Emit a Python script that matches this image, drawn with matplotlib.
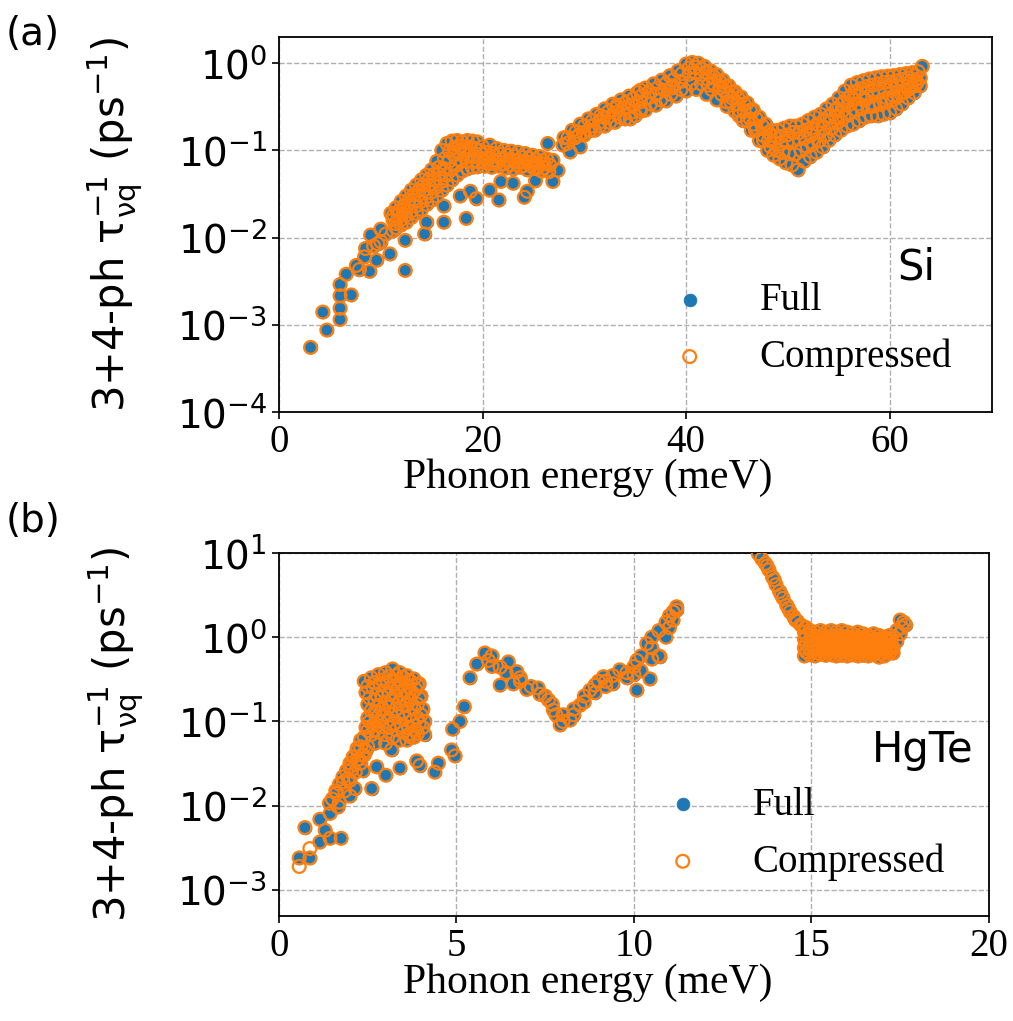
import matplotlib

matplotlib.use("Agg")

import matplotlib.pyplot as plt  # noqa: E402
import numpy as np  # noqa: E402

# ---- Si (panel a) ----
si_sparse_x = [3.1, 4.3, 4.7, 6.0, 6.0, 6.0, 6.0, 7.1, 6.6, 7.9, 8.9, 8.4, 9.6, 9.0,
               10.9, 12.4, 12.4, 14.3, 14.5, 16.2, 16.2, 18.4, 17.8, 18.8, 19.4, 20.7,
               21.6, 21.8, 23.0, 24.1, 24.4, 25.2, 26.9, 27.4, 26.9, 26.4, 27.9, 28.6,
               29.6, 8.5, 9.3, 10.0, 10.5, 11.2, 10.0, 9.7, 7.6, 30.6, 31.9, 33.2, 34.5,
               35.5, 35.5, 63.2, 45.2, 44.0, 46.6, 38.6, 42.2]
si_sparse_y = [5.5e-4, 1.4e-3, 8.7e-4, 1.15e-3, 1.55e-3, 2.15e-3, 2.9e-3, 2.2e-3, 3.8e-3,
               4.3e-3, 4.1e-3, 6.0e-3, 5.5e-3, 1.07e-2, 6.5e-3, 4.2e-3, 9.3e-3, 1.1e-2,
               1.5e-2, 1.5e-2, 2.3e-2, 1.66e-2, 3.0e-2, 3.4e-2, 2.8e-2, 3.5e-2, 2.7e-2,
               4.4e-2, 4.2e-2, 2.9e-2, 3.4e-2, 4.5e-2, 4.4e-2, 5.9e-2, 7.7e-2, 0.12, 0.115,
               0.096, 0.11, 7.5e-3, 8.0e-3, 9.0e-3, 1.1e-2, 1.2e-2, 1.25e-2, 8.5e-3, 4.8e-3,
               0.17, 0.24, 0.33, 0.23, 0.28, 0.49, 0.92, 0.25, 0.36, 0.20, 0.52, 0.56]

# rising band 11-27 meV, several tracks from top to bottom
si_low_a_x = [11.0, 11.5, 12.0, 12.5, 13.0, 13.5, 14.0, 14.5, 15.0, 15.5, 16.0, 16.5, 17.0,
              17.5, 18.0, 18.5, 19.0, 19.5, 20.0, 20.7, 21.4, 22.1, 22.8, 23.5, 24.2, 24.9,
              25.6, 26.3]
si_low_a_y = [0.019, 0.022, 0.026, 0.030, 0.035, 0.040, 0.046, 0.052, 0.060, 0.075, 0.100,
              0.120, 0.128, 0.130, 0.125, 0.130, 0.128, 0.125, 0.110, 0.115, 0.105, 0.100,
              0.098, 0.095, 0.092, 0.088, 0.085, 0.080]
si_low_ab_x = [11.25, 11.75, 12.25, 12.75, 13.25, 13.75, 14.25, 14.75, 15.25, 15.75, 16.25,
               16.75, 17.25, 17.75, 18.25, 18.75, 19.25, 19.75, 20.35, 21.05, 21.75, 22.45,
               23.15, 23.85, 24.55, 25.25, 25.95]
si_low_ab_y = [0.018, 0.020, 0.023, 0.027, 0.031, 0.035, 0.040, 0.046, 0.053, 0.064, 0.080,
               0.098, 0.108, 0.112, 0.108, 0.108, 0.105, 0.100, 0.095, 0.092, 0.090, 0.088,
               0.086, 0.083, 0.081, 0.078, 0.076]
si_low_b_x = [11.2, 11.7, 12.2, 12.7, 13.2, 13.7, 14.2, 14.7, 15.2, 15.7, 16.2, 16.7, 17.2,
              17.7, 18.2, 18.7, 19.2, 19.8, 20.4, 21.1, 21.8, 22.5, 23.2, 23.9, 24.6, 25.3,
              26.0, 26.6]
si_low_b_y = [0.016, 0.018, 0.021, 0.024, 0.027, 0.031, 0.035, 0.040, 0.046, 0.053, 0.062,
              0.075, 0.088, 0.095, 0.092, 0.088, 0.085, 0.082, 0.080, 0.078, 0.080, 0.077,
              0.076, 0.074, 0.073, 0.072, 0.070, 0.068]
si_low_bc_x = [11.45, 11.95, 12.45, 12.95, 13.45, 13.95, 14.45, 14.95, 15.45, 15.95, 16.45,
               16.95, 17.45, 17.95, 18.45, 18.95, 19.5, 20.15, 20.8, 21.45, 22.1, 22.75,
               23.4, 24.05, 24.7, 25.35, 26.0]
si_low_bc_y = [0.0145, 0.016, 0.018, 0.020, 0.023, 0.026, 0.029, 0.033, 0.038, 0.044,
               0.052, 0.060, 0.068, 0.075, 0.076, 0.075, 0.074, 0.073, 0.071, 0.072, 0.070,
               0.069, 0.069, 0.067, 0.067, 0.065, 0.063]
si_low_c_x = [11.5, 12.0, 12.5, 13.0, 13.5, 14.0, 14.5, 15.0, 15.5, 16.0, 16.5, 17.0, 17.5,
              18.0, 18.5, 19.0, 19.5, 20.2, 20.9, 21.6, 22.3, 23.0, 23.7, 24.4, 25.1, 25.8,
              26.5]
si_low_c_y = [0.013, 0.014, 0.015, 0.017, 0.019, 0.021, 0.024, 0.027, 0.030, 0.035, 0.040,
              0.046, 0.052, 0.058, 0.062, 0.064, 0.065, 0.066, 0.064, 0.066, 0.063, 0.062,
              0.064, 0.060, 0.062, 0.058, 0.057]

# optical band 28-63 meV
si_high_d_x = [28.0, 28.8, 29.6, 30.4, 31.2, 32.0, 32.8, 33.6, 34.4, 35.2, 36.0, 36.8, 37.6,
               38.4, 39.2, 40.0, 40.6, 41.2, 41.8, 42.4, 43.0, 43.6, 44.2, 44.8, 45.4, 46.0,
               46.6, 47.2, 47.8, 48.4, 49.0, 49.6, 50.2, 50.8, 51.4, 52.0, 52.6, 53.2, 53.8,
               54.4, 55.0, 55.6, 56.2, 56.8, 57.4, 58.0, 58.6, 59.2, 59.8, 60.4, 61.0, 61.6,
               62.2, 62.8]
si_high_d_y = [0.14, 0.17, 0.20, 0.23, 0.26, 0.30, 0.34, 0.38, 0.42, 0.46, 0.52, 0.58, 0.64,
               0.72, 0.82, 0.98, 1.02, 1.00, 0.92, 0.82, 0.74, 0.64, 0.55, 0.47, 0.41, 0.35,
               0.29, 0.24, 0.20, 0.17, 0.17, 0.18, 0.19, 0.19, 0.20, 0.22, 0.24, 0.26, 0.30,
               0.34, 0.40, 0.48, 0.56, 0.60, 0.63, 0.66, 0.68, 0.70, 0.71, 0.72, 0.74, 0.76,
               0.78, 0.80]
si_high_de_x = [28.4, 29.2, 30.0, 30.8, 31.6, 32.4, 33.2, 34.0, 34.8, 35.6, 36.4, 37.2, 38.0,
                38.8, 39.6, 40.3, 40.9, 41.5, 42.1, 42.7, 43.3, 43.9, 44.5, 45.1, 45.7, 46.3,
                46.9, 47.5, 48.1, 48.7, 49.3, 49.9, 50.5, 51.1, 51.7, 52.3, 52.9, 53.5, 54.1,
                54.7, 55.3, 55.9, 56.5, 57.1, 57.7, 58.3, 58.9, 59.5, 60.1, 60.7, 61.3, 61.9,
                62.5]
si_high_de_y = [0.14, 0.165, 0.19, 0.22, 0.25, 0.28, 0.31, 0.35, 0.39, 0.42, 0.47, 0.52,
                0.58, 0.65, 0.76, 0.88, 0.90, 0.86, 0.78, 0.70, 0.62, 0.54, 0.47, 0.40, 0.34,
                0.29, 0.23, 0.19, 0.16, 0.145, 0.145, 0.15, 0.16, 0.16, 0.17, 0.18, 0.20,
                0.22, 0.25, 0.29, 0.34, 0.40, 0.47, 0.51, 0.54, 0.56, 0.58, 0.60, 0.61, 0.63,
                0.65, 0.68, 0.72]
si_high_e_x = [28.3, 29.1, 29.9, 30.7, 31.5, 32.3, 33.1, 33.9, 34.7, 35.5, 36.3, 37.1, 37.9,
               38.7, 39.5, 40.3, 40.9, 41.5, 42.1, 42.7, 43.3, 43.9, 44.5, 45.1, 45.7, 46.3,
               46.9, 47.5, 48.1, 48.7, 49.3, 49.9, 50.5, 51.1, 51.7, 52.3, 52.9, 53.5, 54.1,
               54.7, 55.3, 55.9, 56.5, 57.1, 57.7, 58.3, 58.9, 59.5, 60.1, 60.7, 61.3, 61.9,
               62.5, 63.0]
si_high_e_y = [0.12, 0.14, 0.16, 0.19, 0.21, 0.24, 0.27, 0.30, 0.33, 0.36, 0.40, 0.44, 0.49,
               0.55, 0.62, 0.75, 0.78, 0.74, 0.66, 0.58, 0.52, 0.46, 0.40, 0.34, 0.28, 0.23,
               0.18, 0.15, 0.13, 0.12, 0.12, 0.125, 0.13, 0.135, 0.14, 0.15, 0.16, 0.18, 0.21,
               0.24, 0.28, 0.33, 0.38, 0.42, 0.45, 0.47, 0.48, 0.50, 0.52, 0.54, 0.56, 0.60,
               0.64, 0.68]
si_high_ef_x = [29.5, 30.5, 31.5, 32.5, 33.5, 34.5, 35.5, 36.5, 37.5, 38.5, 39.5, 40.5, 41.5,
                42.5, 43.5, 44.4, 45.2, 46.0, 46.8, 47.6, 48.3, 48.9, 49.5, 50.1, 50.7, 51.3,
                51.9, 52.5, 53.1, 53.7, 54.3, 54.9, 55.5, 56.1, 56.7, 57.3, 57.9, 58.5, 59.1,
                59.7, 60.3, 60.9, 61.5, 62.1, 62.7]
si_high_ef_y = [0.15, 0.17, 0.19, 0.21, 0.24, 0.27, 0.30, 0.34, 0.38, 0.44, 0.50, 0.58, 0.58,
                0.50, 0.44, 0.36, 0.29, 0.22, 0.17, 0.13, 0.11, 0.10, 0.095, 0.092, 0.090,
                0.10, 0.11, 0.12, 0.13, 0.15, 0.18, 0.21, 0.24, 0.27, 0.29, 0.31, 0.32, 0.33,
                0.34, 0.36, 0.38, 0.42, 0.47, 0.53, 0.60]
si_high_f_x = [30.0, 31.0, 32.0, 33.0, 34.0, 35.0, 36.0, 37.0, 38.0, 39.0, 40.0, 41.0, 42.0,
               43.0, 44.0, 44.8, 45.6, 46.4, 47.2, 48.0, 48.6, 49.2, 49.8, 50.4, 51.0, 51.6,
               52.2, 52.8, 53.4, 54.0, 54.6, 55.2, 55.8, 56.4, 57.0, 57.6, 58.2, 58.8, 59.4,
               60.0, 60.6, 61.2, 61.8, 62.4, 63.0]
si_high_f_y = [0.15, 0.17, 0.19, 0.21, 0.23, 0.25, 0.29, 0.33, 0.37, 0.42, 0.48, 0.50, 0.44,
               0.38, 0.32, 0.28, 0.22, 0.17, 0.13, 0.10, 0.088, 0.080, 0.072, 0.068, 0.060,
               0.075, 0.085, 0.095, 0.11, 0.13, 0.15, 0.17, 0.19, 0.20, 0.22, 0.24, 0.25, 0.25,
               0.26, 0.27, 0.30, 0.34, 0.40, 0.46, 0.55]
si_high_g_x = [54.8, 55.5, 56.2, 56.9, 57.6, 58.3, 59.0, 59.7, 60.4, 61.1, 61.8, 62.5]
si_high_g_y = [0.30, 0.36, 0.42, 0.34, 0.38, 0.32, 0.36, 0.40, 0.42, 0.45, 0.50, 0.56]

# ---- HgTe (panel b) ----
hg_sparse_x = [0.57, 0.87, 0.73, 1.15, 1.15, 1.30, 1.44, 1.75, 1.44, 1.42, 1.67, 1.62, 2.0,
               1.81, 2.14, 2.0, 2.09, 2.37, 2.61, 2.75, 3.01, 3.41, 3.17, 3.69, 3.97, 3.88,
               4.39, 4.49, 4.86, 4.96, 4.89, 5.10, 5.22, 5.38, 5.57, 5.80, 5.90, 6.23, 6.23,
               6.46, 6.60, 6.70, 6.98, 7.35, 7.59, 7.73, 7.92, 8.20, 8.48, 8.76, 9.14, 9.60,
               10.08, 10.08, 10.36]
hg_sparse_y = [2.4e-3, 2.4e-3, 5.5e-3, 3.7e-3, 6.9e-3, 5.1e-3, 4.1e-3, 4.1e-3, 8.1e-3,
               1.07e-2, 9.7e-3, 1.4e-2, 1.3e-2, 1.9e-2, 1.6e-2, 2.9e-2, 3.8e-2, 2.6e-2,
               1.6e-2, 2.9e-2, 2.3e-2, 2.8e-2, 4.6e-2, 6.6e-2, 3.0e-2, 3.4e-2, 2.5e-2,
               3.2e-2, 4.6e-2, 3.9e-2, 8.1e-2, 0.10, 0.15, 0.33, 0.48, 0.65, 0.53, 0.44,
               0.27, 0.51, 0.28, 0.39, 0.24, 0.21, 0.18, 0.136, 0.091, 0.104, 0.156, 0.235,
               0.34, 0.41, 0.235, 0.53, 0.84]

hg_tail_x = [1.5, 1.6, 1.7, 1.8, 1.9, 2.0, 2.1, 2.2, 2.3, 1.7, 1.85, 2.0, 2.15, 2.3, 2.4,
             2.3, 2.2, 2.35, 2.5, 2.7, 3.0, 2.2, 1.95, 2.05, 2.25, 2.45]
hg_tail_y = [0.012, 0.015, 0.018, 0.022, 0.026, 0.032, 0.038, 0.048, 0.060, 0.011, 0.015,
             0.020, 0.025, 0.032, 0.040, 0.050, 0.045, 0.040, 0.050, 0.055, 0.055, 0.035,
             0.021, 0.027, 0.036, 0.045]

hg_blob_x = [2.4, 2.6, 2.8, 3.0, 3.2, 3.4, 3.6, 3.8, 3.95,
             2.5, 2.7, 2.9, 3.1, 3.3, 3.5, 3.7, 3.9,
             2.45, 2.65, 2.85, 3.05, 3.25, 3.45, 3.65, 3.85, 4.0,
             2.55, 2.75, 2.95, 3.15, 3.35, 3.55, 3.75, 3.95,
             2.5, 2.7, 2.9, 3.1, 3.3, 3.5, 3.7, 3.9, 4.05,
             2.6, 2.8, 3.0, 3.2, 3.4, 3.6, 3.8, 4.0,
             2.5, 2.7, 2.9, 3.1, 3.3, 3.5, 3.7, 3.9, 4.1,
             2.55, 2.75, 2.95, 3.15, 3.35, 3.55, 3.75, 3.95,
             2.45, 2.65, 2.85, 3.05, 3.25, 3.45, 3.65, 3.85, 4.05,
             2.5, 2.7, 2.9, 3.1, 3.3, 3.5, 3.7, 3.9,
             2.4, 2.6, 2.8, 3.0, 3.2, 3.4, 3.6, 3.8, 4.1]
hg_blob_y = [0.30, 0.33, 0.36, 0.38, 0.42, 0.38, 0.35, 0.32, 0.28,
             0.26, 0.29, 0.31, 0.34, 0.35, 0.33, 0.30, 0.27,
             0.22, 0.25, 0.27, 0.29, 0.30, 0.28, 0.26, 0.24, 0.20,
             0.19, 0.21, 0.23, 0.25, 0.25, 0.23, 0.22, 0.19,
             0.16, 0.18, 0.20, 0.21, 0.20, 0.19, 0.18, 0.16, 0.14,
             0.135, 0.155, 0.17, 0.175, 0.165, 0.155, 0.145, 0.12,
             0.11, 0.13, 0.14, 0.15, 0.14, 0.13, 0.12, 0.11, 0.10,
             0.10, 0.11, 0.12, 0.12, 0.115, 0.11, 0.10, 0.095,
             0.085, 0.09, 0.10, 0.10, 0.095, 0.09, 0.085, 0.08, 0.085,
             0.078, 0.080, 0.087, 0.085, 0.080, 0.075, 0.072, 0.072,
             0.065, 0.07, 0.075, 0.07, 0.065, 0.06, 0.06, 0.065, 0.07]

hg_mid_x = [6.0, 6.0, 6.4, 6.8, 6.8, 7.1, 7.3, 7.5, 7.7, 7.8, 8.0, 8.0, 8.3, 8.3, 8.6, 8.6,
            8.9, 8.9, 9.0, 9.2, 9.2, 9.4, 9.4, 9.8, 9.8, 10.0, 10.0, 10.2, 10.2, 10.45,
            10.5, 10.5, 10.5, 10.7, 10.7, 10.73, 10.9, 10.9, 11.0, 11.0, 11.1, 11.1, 11.2,
            11.2]
hg_mid_y = [0.60, 0.45, 0.38, 0.33, 0.30, 0.26, 0.25, 0.20, 0.16, 0.12, 0.10, 0.12, 0.12,
            0.14, 0.17, 0.20, 0.22, 0.27, 0.30, 0.26, 0.30, 0.28, 0.35, 0.33, 0.38, 0.36,
            0.45, 0.60, 0.40, 0.32, 0.75, 1.00, 0.55, 0.60, 1.20, 0.59, 1.50, 1.00, 1.30,
            1.80, 2.00, 1.60, 2.30, 2.10]

hg_branch_x = [13.5, 13.6, 13.7, 13.8, 13.9, 14.0, 14.1, 14.2, 14.3, 14.4, 14.5, 14.6, 14.7,
               14.85, 13.75, 13.95, 14.15, 14.35, 14.55, 14.75]
hg_branch_y = [9.8, 8.5, 7.5, 6.3, 5.2, 4.2, 3.5, 2.9, 2.4, 2.0, 1.75, 1.55, 1.4, 1.3, 7.0,
               4.8, 3.2, 2.2, 1.6, 1.35]

hg_flat_x = [14.8, 14.95, 15.1, 15.25, 15.4, 15.55, 15.7, 15.85, 16.0, 16.15, 16.3, 16.45,
             16.6, 16.75, 16.9, 17.05, 17.2,
             14.85, 15.0, 15.15, 15.3, 15.45, 15.6, 15.75, 15.9, 16.05, 16.2, 16.35, 16.5,
             16.65, 16.8, 16.95, 17.1, 17.25,
             14.8, 14.95, 15.1, 15.25, 15.4, 15.55, 15.7, 15.85, 16.0, 16.15, 16.3, 16.45,
             16.6, 16.75, 16.9, 17.05, 17.2,
             14.85, 15.0, 15.15, 15.3, 15.45, 15.6, 15.75, 15.9, 16.05, 16.2, 16.35, 16.5,
             16.65, 16.8, 16.95, 17.1, 17.25,
             14.8, 14.95, 15.1, 15.25, 15.4, 15.55, 15.7, 15.85, 16.0, 16.15, 16.3, 16.45,
             16.6, 16.75, 16.9, 17.05, 17.2,
             14.85, 15.0, 15.15, 15.3, 15.45, 15.6, 15.75, 15.9, 16.05, 16.2, 16.35, 16.5,
             16.65, 16.8, 16.95, 17.1, 17.25,
             14.8, 14.95, 15.1, 15.25, 15.4, 15.55, 15.7, 15.85, 16.0, 16.15, 16.3, 16.45,
             16.6, 16.75, 16.9, 17.05, 17.2,
             17.3, 17.4, 17.5, 17.55, 17.6, 17.5, 17.65, 17.4, 17.3]
hg_flat_y = [1.15, 1.20, 1.15, 1.20, 1.15, 1.20, 1.15, 1.20, 1.15, 1.10, 1.15, 1.10, 1.05,
             1.10, 1.05, 1.00, 1.05,
             1.04, 1.05, 1.02, 1.06, 1.03, 1.04, 1.05, 1.02, 1.00, 1.01, 1.00, 0.98, 0.99,
             0.96, 0.95, 0.94, 0.96,
             0.95, 0.92, 0.95, 0.90, 0.93, 0.95, 0.90, 0.92, 0.88, 0.90, 0.92, 0.88, 0.90,
             0.86, 0.88, 0.85, 0.88,
             0.83, 0.82, 0.84, 0.80, 0.82, 0.83, 0.81, 0.82, 0.79, 0.80, 0.82, 0.79, 0.80,
             0.78, 0.79, 0.78, 0.81,
             0.75, 0.74, 0.76, 0.72, 0.75, 0.73, 0.72, 0.74, 0.70, 0.72, 0.73, 0.70, 0.71,
             0.70, 0.69, 0.72, 0.74,
             0.67, 0.68, 0.66, 0.68, 0.67, 0.68, 0.66, 0.67, 0.65, 0.67, 0.66, 0.65, 0.66,
             0.65, 0.64, 0.66, 0.69,
             0.60, 0.62, 0.60, 0.63, 0.61, 0.62, 0.60, 0.61, 0.60, 0.62, 0.60, 0.61, 0.60,
             0.62, 0.58, 0.60, 0.65,
             0.75, 0.90, 1.10, 1.30, 1.50, 1.60, 1.40, 1.20, 0.65]

# points where the compressed result sits off the full one
hg_comp_only_x = [0.57, 0.87]
hg_comp_only_y = [1.9e-3, 3.1e-3]

BLUE = "#1f77b4"
ORANGE = "#ff7f0e"
YLABEL = r"3+4-ph τ$^{-1}_{\mathrm{\nu q}}$ (ps$^{-1}$)"

plt.rcParams["font.family"] = ["DejaVu Sans"]
plt.rcParams["mathtext.fontset"] = "dejavusans"

fig = plt.figure(figsize=(10.13, 10.21), dpi=100)
ax_a = fig.add_axes([0.2754, 0.5965, 0.7034, 0.3673])
ax_b = fig.add_axes([0.2754, 0.1028, 0.7009, 0.3556])


def _cat(*lists):
    return np.concatenate([np.asarray(v, dtype=float) for v in lists])


si_x = _cat(si_sparse_x, si_low_a_x, si_low_ab_x, si_low_b_x, si_low_bc_x, si_low_c_x,
            si_high_d_x, si_high_de_x, si_high_e_x, si_high_ef_x, si_high_f_x, si_high_g_x)
si_y = _cat(si_sparse_y, si_low_a_y, si_low_ab_y, si_low_b_y, si_low_bc_y, si_low_c_y,
            si_high_d_y, si_high_de_y, si_high_e_y, si_high_ef_y, si_high_f_y, si_high_g_y)
hg_x = _cat(hg_sparse_x, hg_tail_x, hg_blob_x, hg_mid_x, hg_branch_x, hg_flat_x)
hg_y = _cat(hg_sparse_y, hg_tail_y, hg_blob_y, hg_mid_y, hg_branch_y, hg_flat_y)
hg_cx = _cat(hg_x, hg_comp_only_x)
hg_cy = _cat(hg_y, hg_comp_only_y)


def _panel(ax, x, y, cx, cy, name, xlim, ylim, xticks, yticks, leg_anchor, name_pos,
           xlab_pos):
    ax.scatter(x, y, s=85, c=BLUE, edgecolors=BLUE, linewidths=0.5,
               label="Full", zorder=2)
    ax.scatter(cx, cy, s=85, facecolors="none", edgecolors=ORANGE, linewidths=1.6,
               label="Compressed", zorder=3)
    ax.set_yscale("log")
    ax.set_xlim(*xlim)
    ax.set_ylim(*ylim)
    ax.set_xticks(xticks)
    ax.set_yticks(yticks)
    ax.minorticks_off()
    ax.grid(True, linestyle="--", color="#b0b0b0", linewidth=1.0, zorder=0)
    ax.set_axisbelow(True)
    ax.tick_params(axis="y", labelsize=28, length=5, width=1.2)
    ax.tick_params(axis="x", labelsize=28, length=5, width=1.2,
                   labelfontfamily="Liberation Serif")
    for sp in ax.spines.values():
        sp.set_linewidth(1.3)
    ax.set_xlabel("Phonon energy (meV)", fontsize=30, family="Liberation Serif")
    ax.xaxis.set_label_coords(*xlab_pos)
    ax.set_ylabel(YLABEL, fontsize=30)
    ax.yaxis.set_label_coords(-0.189, 0.5)
    ax.text(name_pos[0], name_pos[1], name, transform=ax.transAxes, fontsize=30,
            ha="center", va="center")
    ax.legend(loc="lower left", bbox_to_anchor=leg_anchor, frameon=False,
              borderaxespad=0, prop={"family": "Liberation Serif", "size": 28})


_panel(ax_a, si_x, si_y, si_x, si_y, "Si", (0, 70), (1e-4, 2.0), [0, 20, 40, 60],
       [1e-4, 1e-3, 1e-2, 1e-1, 1e0], (0.50, 0.055), (0.895, 0.384), (0.433, -0.123))
_panel(ax_b, hg_x, hg_y, hg_cx, hg_cy, "HgTe", (0, 20), (4.9e-4, 10.0), [0, 5, 10, 15, 20],
       [1e-3, 1e-2, 1e-1, 1e0, 1e1], (0.492, 0.055), (0.906, 0.457), (0.435, -0.13))

fig.text(0.032, 0.967, "(a)", fontsize=28, ha="center", va="center")
fig.text(0.033, 0.490, "(b)", fontsize=28, ha="center", va="center")

fig.savefig("out.png", dpi=100)
